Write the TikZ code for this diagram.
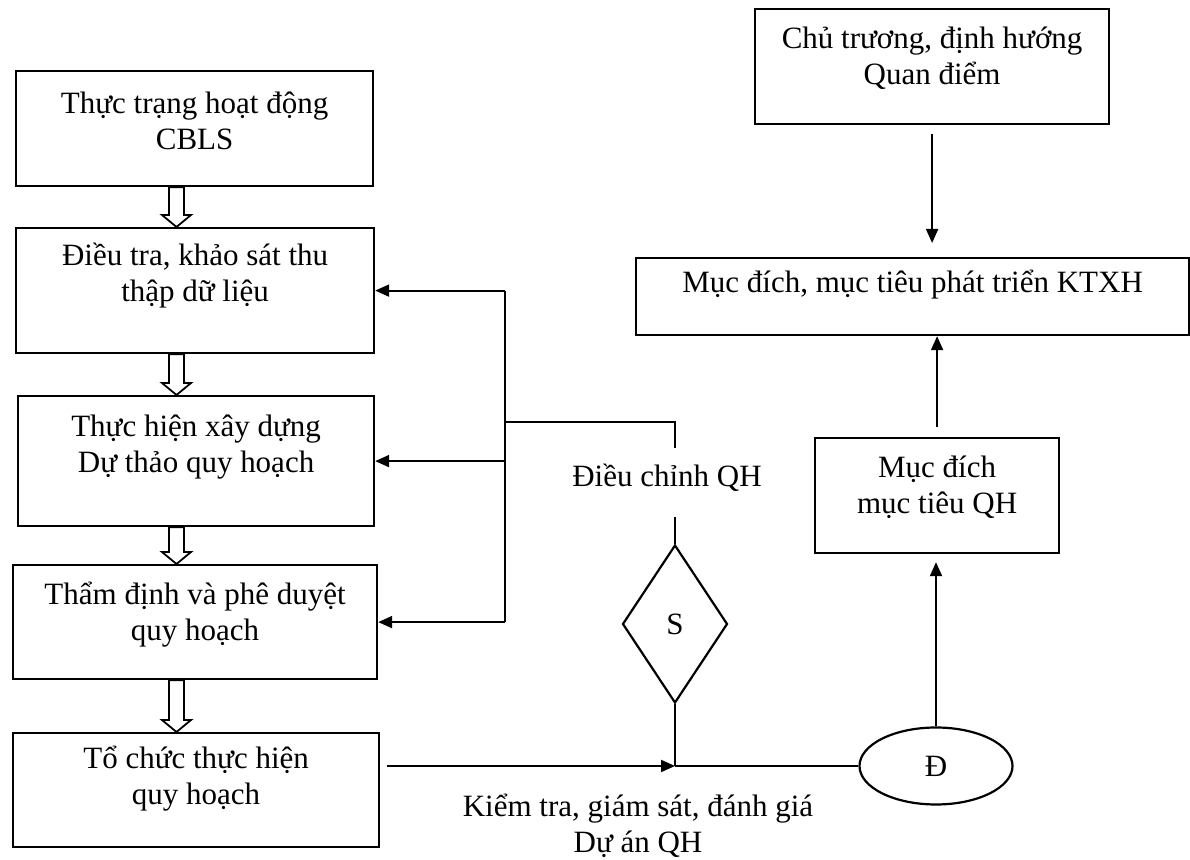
\documentclass[tikz,border=0pt]{standalone}
\usepackage{fontspec}
\setmainfont{Liberation Serif}
\usetikzlibrary{shapes.geometric,arrows.meta,calc}
\begin{document}
\begin{tikzpicture}[x=0.5pt,y=-0.5pt,
  box/.style={draw, line width=1.1pt, rectangle, inner sep=0pt, anchor=north west},
  txt/.style={align=center, font=\fontsize{15.5pt}{18pt}\selectfont, inner sep=0pt},
  conn/.style={line width=1pt},
  arr/.style={conn, -{Triangle[length=7pt,width=6pt]}},
  hollow/.style={line width=0.9pt, fill=white, line join=miter}]
\useasboundingbox (0,0) rectangle (1190,860);

% left column
\node[box, minimum width=178.5pt, minimum height=57.5pt] (b1) at (15,70) {};
\node[txt] (t1) at ($(b1.center)+(0,-7.5)$) {Thực trạng hoạt động\\CBLS};
\node[box, minimum width=179pt, minimum height=62.5pt] (b2) at (15,227) {};
\node[txt] (t2) at ($(b2.center)+(0,-15.5)$) {Điều tra, khảo sát thu\\thập dữ liệu};
\node[box, minimum width=178pt, minimum height=65pt] (b3) at (17,395) {};
\node[txt] (t3) at ($(b3.center)+(0,-14)$) {Thực hiện xây dựng\\Dự thảo quy hoạch};
\node[box, minimum width=182pt, minimum height=57pt] (b4) at (12,564) {};
\node[txt] (t4) at ($(b4.center)+(0,-7)$) {Thẩm định và phê duyệt\\quy hoạch};
\node[box, minimum width=183pt, minimum height=57pt] (b5) at (12,732) {};
\node[txt] (t5) at ($(b5.center)+(0,-11)$) {Tổ chức thực hiện\\quy hoạch};

% right column
\node[box, minimum width=177pt, minimum height=57.5pt] (chu) at (754,8) {};
\node[txt] (tc) at ($(chu.center)+(0,-8)$) {Chủ trương, định hướng\\Quan điểm};
\node[box, minimum width=276.5pt, minimum height=38.5pt] (ktxh) at (635,257) {};
\node[txt] (tk) at ($(ktxh.center)+(0,-12)$) {Mục đích, mục tiêu phát triển KTXH};
\node[box, minimum width=122pt, minimum height=57.5pt] (md) at (814,437) {};
\node[txt] (tm) at ($(md.center)+(0,-8)$) {Mục đích\\mục tiêu QH};
\node[draw, ellipse, line width=1.1pt, minimum width=76.5pt, minimum height=38.5pt, inner sep=0pt,
      font=\fontsize{15.5pt}{18pt}\selectfont] (el) at (936,766) {Đ};
\node[draw, diamond, line width=1.1pt, minimum width=52.5pt, minimum height=79pt, inner sep=0pt,
      font=\fontsize{15.5pt}{18pt}\selectfont] (dia) at (675,624) {S};

% labels
\node[txt] (dc) at (667,478) {Điều chỉnh QH};
\node[txt] (kt) at (638,826) {Kiểm tra, giám sát, đánh giá\\Dự án QH};

% hollow arrows
\newcommand\hollowarrow[2]{%
 \draw[hollow] (169,0 |- #1.south) -- (184,0 |- #1.south)
   -- ($(184,0 |- #2.north)+(0,-12)$) -- ($(191,0 |- #2.north)+(0,-12)$)
   -- (176.5,0 |- #2.north)
   -- ($(162,0 |- #2.north)+(0,-12)$) -- ($(169,0 |- #2.north)+(0,-12)$) -- cycle;}
\hollowarrow{b1}{b2}
\hollowarrow{b2}{b3}
\hollowarrow{b3}{b4}
\hollowarrow{b4}{b5}

% feedback bus
\coordinate (bx) at (505,422);
\draw[conn] (bx |- b2.east) -- (bx |- b4.east);
\draw[arr] (bx |- b2.east) -- (b2.east);
\draw[arr] (bx |- b3.east) -- (b3.east);
\draw[arr] (bx |- b4.east) -- (b4.east);
\draw[conn] (bx) -- (bx -| dia.north) -- ++(0,26);
\draw[conn] (dia.north) -- ++(0,-27);

% bottom flow
\coordinate (jn) at (dia.south |- el.west);
\draw[arr] ($(b5.east |- el.west)+(7,0)$) -- (jn);
\draw[conn] (jn) -- (el.west);
\draw[conn] (dia.south) -- (jn);

% right flow
\draw[arr, shorten <=4.5pt, shorten >=7pt] (chu.south) -- (chu.south |- ktxh.north);
\draw[arr, shorten <=5pt] (md.north) -- (md.north |- ktxh.south);
\draw[arr, shorten >=4pt] (el.north) -- (el.north |- md.south);
\end{tikzpicture}
\end{document}
